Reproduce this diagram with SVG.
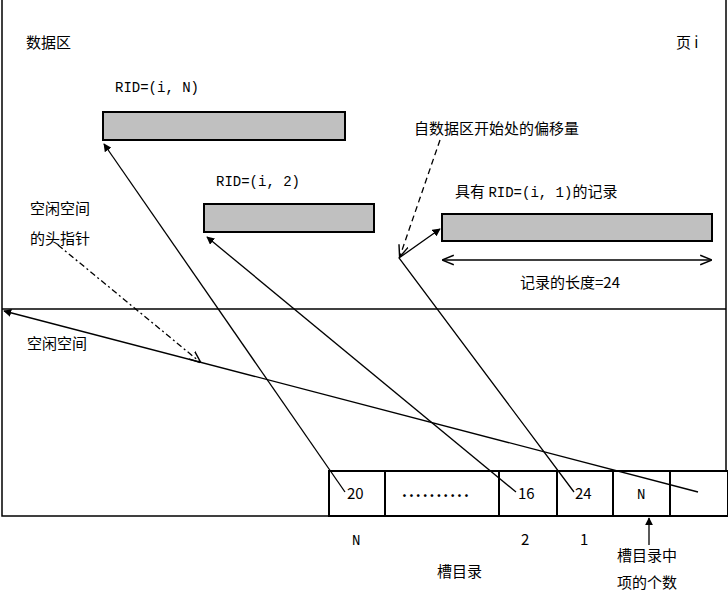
<svg xmlns="http://www.w3.org/2000/svg" width="728" height="608" viewBox="0 0 728 608">
<style>
text{font-family:"Noto Sans CJK SC","Liberation Sans",sans-serif;font-size:15px;fill:#000}
.m{font-family:"Liberation Mono","Noto Sans CJK SC",monospace;font-size:14px}
.ln{stroke:#000;stroke-width:1.3;fill:none}
.rec{fill:#c0c0c0;stroke:#000;stroke-width:2}
.cell{fill:#fff;stroke:#000;stroke-width:2}
</style>
<defs>
<marker id="fa" viewBox="0 0 10 10" refX="9" refY="5" markerWidth="8" markerHeight="8" orient="auto-start-reverse" markerUnits="userSpaceOnUse"><path d="M0,0L10,5L0,10z" fill="#000"/></marker>
<marker id="oa" viewBox="0 0 10 10" refX="9" refY="5" markerWidth="12" markerHeight="12" orient="auto-start-reverse" markerUnits="userSpaceOnUse"><path d="M0,1L10,5L0,9" fill="none" stroke="#000" stroke-width="1.2"/></marker>
</defs>
<rect x="0" y="0" width="728" height="608" fill="#fff"/>
<g id="frame">
<rect x="2" y="-2" width="724" height="518" fill="none" stroke="#000" stroke-width="1.5"/>
<line x1="2" y1="309" x2="726" y2="309" stroke="#000" stroke-width="1.5"/>
</g>
<g id="recN"><rect class="rec" x="103" y="112" width="242" height="28"/><text class="m" x="115" y="92">RID=(i, N)</text></g>
<g id="rec2"><rect class="rec" x="204" y="204" width="170" height="28"/><text class="m" x="216" y="186">RID=(i, 2)</text></g>
<g id="rec1"><rect class="rec" x="442" y="214" width="270" height="27"/><text x="455" y="197">具有 <tspan class="m">RID=(i, 1)</tspan>的记录</text></g>
<g id="slots">
<rect class="cell" x="329" y="471" width="56" height="45"/>
<rect class="cell" x="385" y="471" width="114" height="45"/>
<rect class="cell" x="499" y="471" width="58" height="45"/>
<rect class="cell" x="557" y="471" width="56" height="45"/>
<rect class="cell" x="613" y="471" width="57" height="45"/>
<rect class="cell" x="670" y="471" width="58" height="45"/>
<text x="347" y="499">20</text>
<text x="402" y="497" font-weight="bold" letter-spacing="2">..........</text>
<text x="518" y="499">16</text>
<text x="575" y="499">24</text>
<text class="m" x="637" y="499">N</text>
</g>
<g id="labels">
<text x="26" y="48">数据区</text>
<text x="676" y="48">页 i</text>
<text x="414" y="134">自数据区开始处的偏移量</text>
<text x="520" y="288">记录的长度=24</text>
<text x="30" y="214">空闲空间</text>
<text x="30" y="244">的头指针</text>
<text x="27" y="349">空闲空间</text>
<text class="m" x="352" y="545">N</text>
<text x="521" y="545">2</text>
<text x="580" y="545">1</text>
<text x="437" y="577">槽目录</text>
<text x="617" y="561">槽目录中</text>
<text x="617" y="588">项的个数</text>
</g>
<g id="connectors">
<line class="ln" x1="345" y1="492" x2="104" y2="144" marker-end="url(#fa)"/>
<line class="ln" x1="516" y1="492" x2="207" y2="237" marker-end="url(#fa)"/>
<polyline class="ln" points="574,492 399,258 440,229" marker-end="url(#fa)"/>
<line class="ln" x1="698" y1="492" x2="4" y2="311" marker-end="url(#fa)"/>
<line class="ln" x1="440" y1="140" x2="400" y2="256" stroke-dasharray="6,4" marker-end="url(#oa)"/>
<line class="ln" x1="58" y1="245" x2="200" y2="362" stroke-dasharray="6,3,2,3" marker-end="url(#oa)"/>
<line class="ln" x1="443" y1="260" x2="711" y2="260" marker-start="url(#oa)" marker-end="url(#oa)"/>
<line class="ln" x1="649" y1="545" x2="649" y2="518" marker-end="url(#fa)"/>
</g>
</svg>
